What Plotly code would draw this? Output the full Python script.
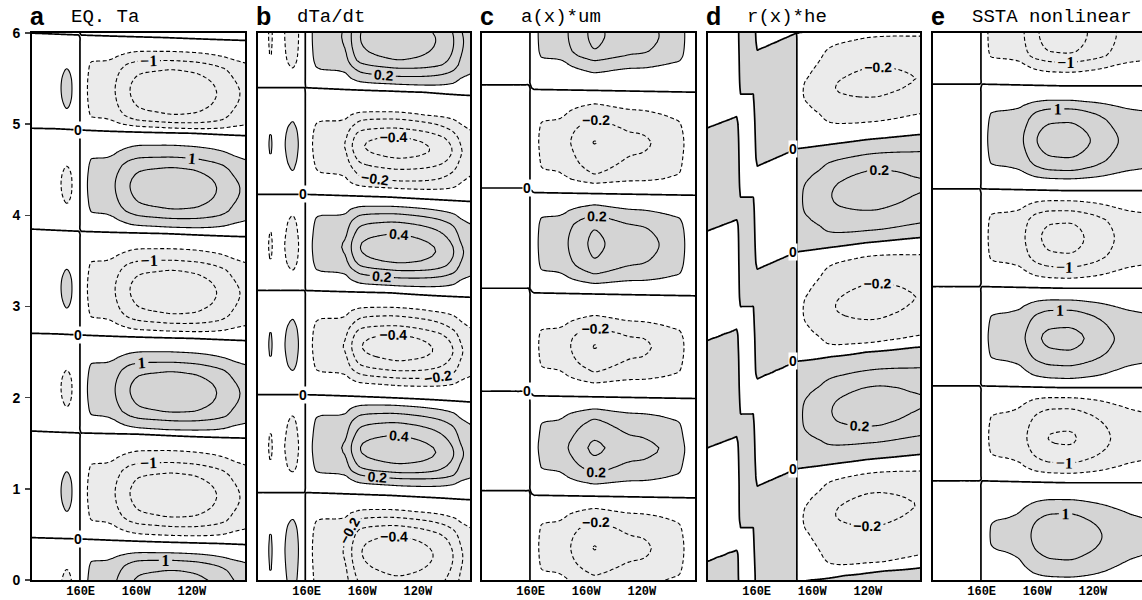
import numpy as np
import plotly.graph_objects as go

# ---------------- values ----------------
TICK_LON = [160, 200, 240]
TICK_TEXT = ["160E", "160W", "120W"]
YEAR_TICKS = [0, 1, 2, 3, 4, 5, 6]
LETTERS = ["a", "b", "c", "d", "e"]
TITLES = ["EQ. Ta", "dTa/dt", "a(x)*um", "r(x)*he", "SSTA nonlinear"]

# panel a : EQ. Ta   (zonal profile, time series at the profile maximum, phase lag)
a_lon = [123, 133, 140, 144, 147, 150, 153, 156, 159.5, 163, 165.5, 168, 178, 183, 187, 191, 196, 203, 215, 226, 240, 252, 262, 270, 280]
a_prof = [-0.04, -0.08, -0.15, -0.23, -0.29, -0.32, -0.29, -0.18, 0.0, 0.18, 0.3, 0.41, 0.44, 0.5, 0.6, 0.7, 0.82, 0.92, 0.97, 1.0, 0.97, 0.88, 0.75, 0.6, 0.48]
a_time = [-0.45, -0.15, 0.11, 0.22, 0.30, 0.42, 0.49, 0.59, 0.69, 0.94, 1.18, 1.29, 1.42, 1.59,
          1.65, 1.75, 1.84, 2.07, 2.29, 2.39, 2.505, 2.66, 2.73, 2.82, 2.92, 3.17, 3.40, 3.51, 3.635, 3.80,
          3.87, 3.97, 4.07, 4.31, 4.53, 4.64, 4.77, 4.91, 4.96, 5.02, 5.11, 5.36, 5.60, 5.70, 5.80, 5.95, 6.05, 6.25]
a_val = [1.5, 1.85, 1.5, 1.0, 0.5, 0.0, -0.5, -1.0, -1.5, -1.85, -1.5, -1.0, -0.5, 0.0,
         0.5, 1.0, 1.5, 1.85, 1.5, 1.0, 0.5, 0.0, -0.5, -1.0, -1.5, -1.85, -1.5, -1.0, -0.5, 0.0,
         0.5, 1.0, 1.5, 1.85, 1.5, 1.0, 0.5, 0.0, -0.5, -1.0, -1.5, -1.85, -1.5, -1.0, -0.5, 0.0, 0.5, 1.2]
a_lag_lon = [123, 160, 220, 280]
a_lag = [0.05, 0.03, 0.0, -0.03]

# panel b : dTa/dt
b_lon = [123, 128, 131, 134, 137, 140, 144.5, 147, 150, 152, 154, 156.5, 159, 162, 164.6, 167, 172, 182, 187.6, 192.6, 199.8, 212, 225, 238, 251, 265, 271, 280]
b_prof = [-0.08, -0.1, -0.15, -0.25, -0.15, -0.14, -0.22, -0.32, -0.38, -0.32, -0.22, -0.12, 0.0, 0.12, 0.24, 0.36, 0.4, 0.41, 0.45, 0.66, 0.87, 0.96, 1.0, 0.96, 0.87, 0.66, 0.46, 0.33]
b_time = [-0.3, -0.1, 0.05, 0.3, 0.49, 0.60, 0.69, 0.77, 0.93, 1.04, 1.12, 1.18, 1.28, 1.43, 1.59, 1.73, 1.83, 1.92, 2.0,
          2.14, 2.22, 2.30, 2.41, 2.55, 2.70, 2.79, 2.90, 2.99, 3.15, 3.23, 3.32, 3.40, 3.48, 3.64, 3.80, 3.93, 4.02, 4.10, 4.20,
          4.30, 4.38, 4.51, 4.63, 4.75, 4.87, 4.96, 5.06, 5.13, 5.37, 5.44, 5.53, 5.62, 5.71, 5.95, 6.2]
b_val = [-0.2, -0.33, -0.4, -0.46, -0.4, -0.3, -0.2, -0.1, 0.0, 0.1, 0.2, 0.3, 0.4, 0.47, 0.4, 0.3, 0.2, 0.1, 0.0,
         -0.1, -0.2, -0.3, -0.4, -0.46, -0.4, -0.3, -0.2, -0.1, 0.0, 0.1, 0.2, 0.3, 0.4, 0.47, 0.4, 0.3, 0.2, 0.1, 0.0,
         -0.1, -0.2, -0.3, -0.4, -0.45, -0.4, -0.3, -0.2, -0.1, 0.0, 0.1, 0.2, 0.3, 0.4, 0.47, 0.4]
b_lag_lon = [123, 159, 220, 280]
b_lag = [0.03, 0.03, 0.0, -0.05]

# panel c : a(x)*um
c_lon = [123, 140, 150, 156, 159.5, 163, 165.5, 168, 180, 185, 187, 194, 201, 206, 212, 220, 232, 240, 251, 262, 267, 270, 273, 280]
c_prof = [-0.06, -0.07, -0.06, -0.04, 0.0, 0.15, 0.3, 0.42, 0.46, 0.53, 0.59, 0.75, 0.88, 0.96, 0.9, 0.8, 0.7, 0.68, 0.6, 0.5, 0.45, 0.33, 0.22, 0.14]
c_time = [-0.35, -0.2, -0.07, 0.05, 0.27, 0.365, 0.46, 0.68, 0.80, 0.93, 1.06, 1.17, 1.35, 1.46, 1.57, 1.79, 1.89, 2.02,
          2.17, 2.28, 2.49, 2.575, 2.66, 2.79, 2.92, 3.15, 3.26, 3.36, 3.50, 3.70, 3.89, 4.02, 4.13, 4.25,
          4.36, 4.45, 4.73, 4.81, 4.89, 5.09, 5.24, 5.38, 5.57, 5.70, 5.80, 6.0, 6.2]
c_val = [0.1, 0.0, -0.1, -0.2, -0.3, -0.315, -0.3, -0.2, -0.1, 0.0, 0.1, 0.2, 0.3, 0.34, 0.3, 0.2, 0.1, 0.0,
         -0.1, -0.2, -0.3, -0.315, -0.3, -0.2, -0.1, 0.0, 0.1, 0.2, 0.3, 0.34, 0.3, 0.2, 0.1, 0.0,
         -0.1, -0.2, -0.3, -0.315, -0.3, -0.2, -0.1, 0.0, 0.1, 0.2, 0.3, 0.34, 0.3]
c_lag_lon = [123, 159, 162, 280]
c_lag = [0.05, 0.05, 0.0, -0.03]

# panel d : r(x)*he  -- eastern lobe + three western bands (W, M, E) with their own sign and phase lag
d_lon = [123, 186, 189, 191, 194, 198, 205, 212, 220, 245, 260, 272, 280]
d_prof = [0.0, 0.0, 0.0, 0.3, 0.45, 0.5, 0.6, 0.8, 0.9, 1.0, 0.95, 0.88, 0.85]
d_time = [-0.45, -0.2, 0.08, 0.18, 0.58, 0.77, 0.95, 1.17, 1.32, 1.50, 1.68, 1.90, 2.12, 2.30, 2.50,
          2.60, 2.85, 3.05, 3.25, 3.55, 3.70, 3.83, 4.05, 4.27, 4.49, 4.67, 4.83,
          5.02, 5.29, 5.45, 5.62, 5.95, 6.1, 6.3, 6.5]
d_val = [0.2, 0.1, 0.0, -0.1, -0.2, -0.23, -0.2, -0.1, 0.0, 0.1, 0.2, 0.24, 0.2, 0.1, 0.0,
         -0.1, -0.2, -0.23, -0.2, -0.1, 0.0, 0.1, 0.2, 0.24, 0.2, 0.1, 0.0,
         -0.1, -0.2, -0.23, -0.2, -0.1, 0.0, 0.1, 0.2]
d_lag_lon = [123, 189, 239, 280]
d_lag = [-0.1, -0.1, 0.0, 0.06]
d_west_amp_lon = [123, 183, 189, 280]
d_west_amp = [0.35, 0.35, 0.0, 0.0]
d_band_sign = {"W": 1.0, "M": -1.0, "E": -1.0}
d_band_lag_lon = {"W": [123, 147], "M": [123, 280], "E": [159, 189]}
d_band_lag = {"W": [0.12, 0.26], "M": [0.5, 0.5], "E": [-0.3, -0.1]}
d_band_w_lon = {"W": [123, 146, 148.5, 280], "M": [123, 146, 148.5, 157.5, 160, 280], "E": [123, 157.5, 160, 280]}
d_band_w = {"W": [1, 1, 0, 0], "M": [0, 0, 1, 1, 0, 0], "E": [0, 0, 1, 1]}

# panel e : SSTA nonlinear
e_lon = [123, 140, 152, 159.5, 162, 164.6, 167, 180, 187, 191, 200, 210, 222, 238, 248, 256, 266, 277]
e_prof = [-0.05, -0.07, -0.06, 0.0, 0.15, 0.3, 0.4, 0.45, 0.5, 0.6, 0.86, 0.98, 1.0, 0.86, 0.72, 0.6, 0.5, 0.45]
e_time = [-0.3, -0.1, 0.03, 0.22, 0.48, 0.73, 0.88, 1.07, 1.17, 1.28, 1.55, 1.88, 2.0, 2.11,
          2.21, 2.35, 2.52, 2.65, 2.77, 2.96, 3.07, 3.20, 3.31, 3.43, 3.58, 3.75, 3.92, 4.05, 4.16, 4.27,
          4.40, 4.49, 4.63, 4.82, 5.02, 5.17, 5.26, 5.42, 5.57, 5.68, 5.77, 6.0, 6.2]
e_val = [-0.5, 0.0, 0.5, 1.0, 1.35, 1.0, 0.5, 0.0, -0.5, -1.0, -1.55, -1.0, -0.5, 0.0,
         0.5, 1.0, 1.5, 1.65, 1.5, 1.0, 0.5, 0.0, -0.5, -1.0, -1.5, -1.65, -1.5, -1.0, -0.5, 0.0,
         0.5, 1.0, 1.5, 1.75, 1.5, 1.0, 0.5, 0.0, -0.5, -1.0, -1.5, -1.7, -1.5]
e_lag_lon = [123, 159, 220, 277]
e_lag = [0.02, 0.02, 0.0, 0.0]

# where the "0" labels sit: longitude, and which zero crossings get one ("down": + below, - above)
ZERO_LABEL_LON = {"a": 157.8, "b": 157.3, "c": 157.3, "d": 186.0}
ZERO_LABEL_KIND = {"a": "down", "b": "down", "c": "down", "d": "all"}

# contour levels: (start, end, step) for each line group, plus the two shading thresholds
LEVELS = {
    "a": dict(fill=(-0.5, 0.5), neg=(-1.5, -0.5, 1.0), negl=(-1.0, -1.0, 1.0), pos=(0.5, 1.5, 1.0), posl=(1.0, 1.0, 1.0)),
    "b": dict(fill=(-0.1, 0.1), neg=(-0.3, -0.1, 0.2), negl=(-0.4, -0.2, 0.2), pos=(0.1, 0.3, 0.2), posl=(0.2, 0.4, 0.2)),
    "c": dict(fill=(-0.1, 0.1), neg=(-0.3, -0.1, 0.2), negl=(-0.2, -0.2, 0.2), pos=(0.1, 0.3, 0.2), posl=(0.2, 0.2, 0.2)),
    "d": dict(fill=(-0.1, 0.0), neg=(-0.1, -0.1, 0.1), negl=(-0.2, -0.2, 0.1), pos=(0.1, 0.1, 0.1), posl=(0.2, 0.2, 0.1)),
    "e": dict(fill=(-0.5, 0.5), neg=(-1.5, -0.5, 1.0), negl=(-1.0, -1.0, 1.0), pos=(0.5, 1.5, 1.0), posl=(1.0, 1.0, 1.0)),
}

SERIES = {
    "a": (a_time, a_val, a_lag_lon, a_lag),
    "b": (b_time, b_val, b_lag_lon, b_lag),
    "c": (c_time, c_val, c_lag_lon, c_lag),
    "d": (d_time, d_val, d_lag_lon, d_lag),
    "e": (e_time, e_val, e_lag_lon, e_lag),
}

# ---------------- layout geometry (pixels) ----------------
W, H = 1142, 600
ML, MR, MT, MB = 32, 0, 33, 20
PANEL_LEFT = [32, 258, 482, 708, 933]
PANEL_W = [213, 212, 213, 212, 209]
PX_PER_DEG = 1.39
LON0 = 125.0

NEG_FILL = "#ebebeb"
POS_FILL = "#d4d4d4"


def pchip(xq, xp, fp):
    xp = np.asarray(xp, float)
    fp = np.asarray(fp, float)
    h = np.diff(xp)
    d = np.diff(fp) / h
    m = np.zeros_like(fp)
    m[0], m[-1] = d[0], d[-1]
    for k in range(1, len(fp) - 1):
        if d[k - 1] * d[k] > 0:
            w1 = 2 * h[k] + h[k - 1]
            w2 = h[k] + 2 * h[k - 1]
            m[k] = (w1 + w2) / (w1 / d[k - 1] + w2 / d[k])
    xq = np.clip(np.asarray(xq, float), xp[0], xp[-1])
    i = np.clip(np.searchsorted(xp, xq) - 1, 0, len(xp) - 2)
    t = (xq - xp[i]) / h[i]
    h00 = 2 * t**3 - 3 * t**2 + 1
    h10 = t**3 - 2 * t**2 + t
    h01 = -2 * t**3 + 3 * t**2
    h11 = t**3 - t**2
    return h00 * fp[i] + h10 * h[i] * m[i] + h01 * fp[i + 1] + h11 * h[i] * m[i + 1]


LON = np.arange(123.5, 280.0, 1.0)
TIME = np.linspace(-0.1, 6.1, 125)


def lagged(time, val, lag_lon, lag):
    L = np.interp(LON, lag_lon, lag)
    tt = TIME[:, None] - L[None, :]
    return pchip(tt.ravel(), time, val).reshape(tt.shape)


def build(lon, prof, time, val, lag_lon, lag):
    X = pchip(LON, lon, prof)
    return np.round(lagged(time, val, lag_lon, lag) * X[None, :], 4)


def build_d():
    east = build(d_lon, d_prof, d_time, d_val, d_lag_lon, d_lag)
    amp = np.interp(LON, d_west_amp_lon, d_west_amp)
    west = np.zeros_like(east)
    for band in ("W", "M", "E"):
        w = np.interp(LON, d_band_w_lon[band], d_band_w[band])
        f = lagged(d_time, d_val, d_band_lag_lon[band], d_band_lag[band])
        west += d_band_sign[band] * w[None, :] * f
    return np.round(east + amp[None, :] * west, 4)


def zero_label_times(key):
    time, val, lag_lon, lag = SERIES[key]
    lon = ZERO_LABEL_LON[key]
    shift = float(np.interp(lon, lag_lon, lag))
    out = []
    for i in range(1, len(val) - 1):
        if val[i] != 0:
            continue
        if ZERO_LABEL_KIND[key] == "down" and not (val[i - 1] > 0 > val[i + 1]):
            continue
        t = time[i] + shift
        if 0.3 < t < 5.8:
            out.append(t)
    return out


FIELDS = {
    "a": build(a_lon, a_prof, a_time, a_val, a_lag_lon, a_lag),
    "b": build(b_lon, b_prof, b_time, b_val, b_lag_lon, b_lag),
    "c": build(c_lon, c_prof, c_time, c_val, c_lag_lon, c_lag),
    "d": build_d(),
    "e": build(e_lon, e_prof, e_time, e_val, e_lag_lon, e_lag),
}

SERIF_LABEL = dict(family="Liberation Serif", size=16, color="black", weight="bold")
SANS_LABEL = dict(family="Liberation Sans", size=14, color="black", weight="bold")
LABEL_FONT = {"a": SERIF_LABEL, "b": SANS_LABEL, "c": SANS_LABEL, "d": SANS_LABEL, "e": SERIF_LABEL}

fig = go.Figure()
plot_w = W - ML - MR
plot_h = H - MT - MB

for k, key in enumerate(LETTERS):
    z = FIELDS[key].tolist()
    lv = LEVELS[key]
    xa = "x" if k == 0 else f"x{k+1}"
    ya = "y" if k == 0 else f"y{k+1}"
    common = dict(x=LON.tolist(), y=TIME.tolist(), z=z, xaxis=xa, yaxis=ya,
                  showscale=False, hoverinfo="skip", autocontour=False)
    lo, hi = lv["fill"]
    fig.add_trace(go.Contour(**common,
                             contours=dict(start=lo, end=hi, size=hi - lo, coloring="fill"),
                             colorscale=[[0, NEG_FILL], [0.5, "#ffffff"], [1, POS_FILL]],
                             line=dict(width=0)))

    def lines(rng, dash, labeled, width=1.1, font=None):
        s, e, sz = rng
        fig.add_trace(go.Contour(**common,
                                 contours=dict(start=s, end=e + sz * 0.01, size=sz, coloring="none",
                                               showlabels=labeled, labelfont=font or LABEL_FONT[key],
                                               labelformat=".2~g"),
                                 line=dict(color="black", width=width, dash=dash, smoothing=1.0)))

    lines(lv["neg"], "4px,2.5px", False)
    lines(lv["negl"], "4px,2.5px", True)
    lines(lv["pos"], "solid", False)
    lines(lv["posl"], "solid", True)
    lines((0.0, 0.0, 1.0), "solid", False, width=1.7)

    if key in ZERO_LABEL_LON:
        for t in zero_label_times(key):
            fig.add_annotation(x=ZERO_LABEL_LON[key], y=t, xref=xa, yref=ya, text="0", showarrow=False,
                               bgcolor="white", borderpad=0, xanchor="center", yanchor="middle",
                               font=SANS_LABEL)

    x0 = (PANEL_LEFT[k] - ML) / plot_w
    x1 = (PANEL_LEFT[k] + PANEL_W[k] - ML) / plot_w
    xr = [LON0, LON0 + PANEL_W[k] / PX_PER_DEG]
    fig.layout[xa.replace("x", "xaxis")] = dict(
        domain=[x0, x1], range=xr, anchor=ya, tickvals=TICK_LON, ticktext=TICK_TEXT,
        showline=True, mirror=True, linecolor="black", linewidth=2, ticks="", ticklen=0,
        showgrid=False, zeroline=False, ticklabelstandoff=-1, automargin=False,
        tickfont=dict(family="Liberation Mono", size=12, color="black", weight="bold"))
    fig.layout[ya.replace("y", "yaxis")] = dict(
        domain=[0, 1], range=[0, 6], anchor=xa, tickvals=YEAR_TICKS,
        showticklabels=(k == 0), ticks="outside" if k == 0 else "", ticklen=5, tickwidth=1.5,
        showline=True, mirror=True, linecolor="black", linewidth=2, automargin=False,
        showgrid=False, zeroline=False, ticklabelstandoff=2,
        tickfont=dict(family="Liberation Sans", size=14, color="black", weight="bold"))

    fig.add_annotation(xref="paper", yref="paper", x=x0, y=1 + 17 / plot_h,
                       xanchor="left", yanchor="middle", xshift=-4, showarrow=False,
                       text=LETTERS[k], font=dict(family="Liberation Sans", size=25, color="black", weight="bold"))
    fig.add_annotation(xref="paper", yref="paper", x=x0, y=1 + 16 / plot_h,
                       xanchor="left", yanchor="middle", xshift=37, showarrow=False,
                       text=TITLES[k], font=dict(family="Liberation Mono", size=19, color="black"))

fig.update_layout(width=W, height=H, margin=dict(l=ML, r=MR, t=MT, b=MB, autoexpand=False),
                  paper_bgcolor="white", plot_bgcolor="white", showlegend=False)
# the page's default 8px body margin would push the figure off its 1142x600 frame
fig.write_html("out.html", config={"displayModeBar": False, "staticPlot": True},
               post_script="document.body.style.margin='0';document.body.style.overflow='hidden';")
